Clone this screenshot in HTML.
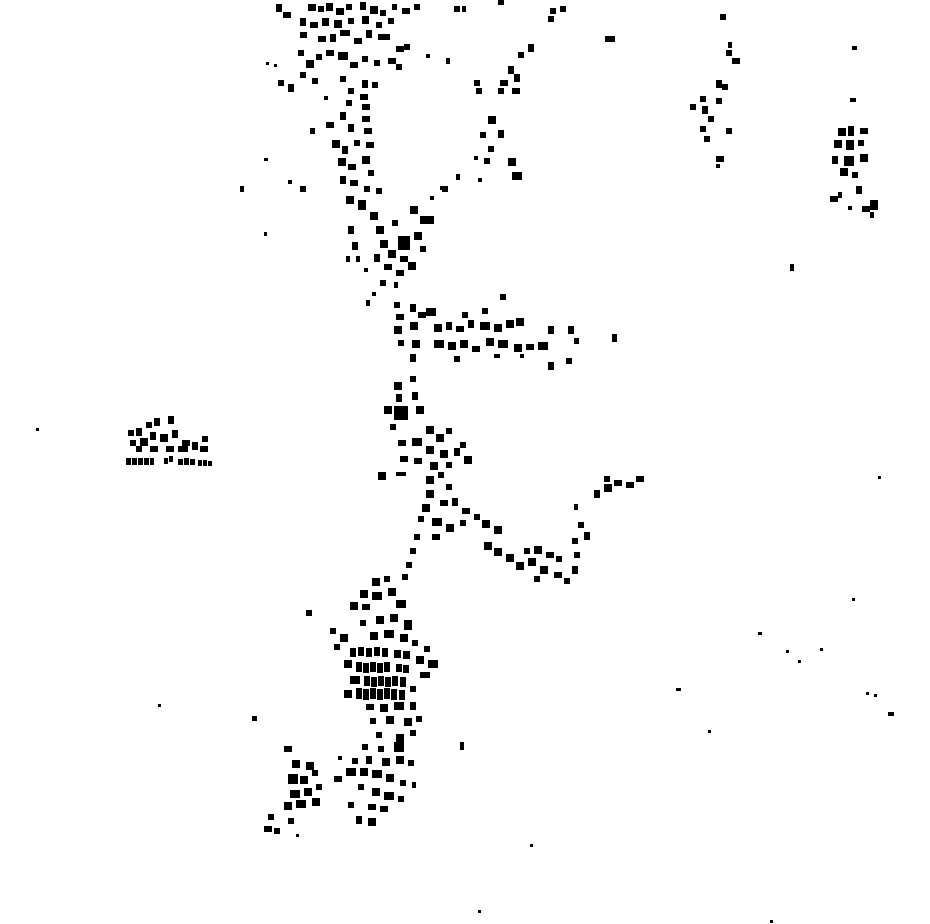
<!DOCTYPE html>
<html><head><meta charset="utf-8"><style>html,body{margin:0;padding:0;background:#fff}svg{display:block}</style></head>
<body>
<svg width="930" height="924" viewBox="0 0 930 924" xmlns="http://www.w3.org/2000/svg" fill="#000">
<g>
<rect x="276" y="4" width="6" height="8"/><rect x="283" y="12" width="8" height="6"/><rect x="308" y="4" width="8" height="7"/><rect x="318" y="6" width="6" height="6"/><rect x="326" y="3" width="7" height="8"/><rect x="336" y="8" width="8" height="7"/><rect x="346" y="4" width="6" height="6"/><rect x="360" y="2" width="6" height="8"/><rect x="370" y="6" width="8" height="8"/><rect x="380" y="10" width="6" height="6"/><rect x="392" y="4" width="5" height="6"/><rect x="402" y="8" width="8" height="6"/><rect x="414" y="4" width="6" height="6"/>
<rect x="300" y="18" width="6" height="8"/><rect x="310" y="22" width="8" height="6"/><rect x="322" y="18" width="7" height="8"/><rect x="334" y="20" width="8" height="8"/><rect x="348" y="18" width="6" height="6"/><rect x="362" y="16" width="7" height="8"/><rect x="376" y="22" width="6" height="6"/><rect x="388" y="18" width="6" height="6"/>
<rect x="300" y="32" width="7" height="6"/><rect x="318" y="36" width="8" height="6"/><rect x="330" y="34" width="6" height="8"/><rect x="340" y="30" width="10" height="6"/><rect x="354" y="38" width="8" height="6"/><rect x="366" y="30" width="6" height="8"/><rect x="378" y="34" width="12" height="6"/><rect x="396" y="46" width="8" height="6"/><rect x="404" y="44" width="6" height="6"/>
<rect x="298" y="50" width="6" height="6"/><rect x="306" y="60" width="8" height="8"/><rect x="316" y="54" width="6" height="6"/><rect x="326" y="50" width="8" height="6"/><rect x="338" y="52" width="10" height="8"/><rect x="350" y="62" width="8" height="6"/><rect x="362" y="56" width="6" height="6"/><rect x="374" y="60" width="6" height="6"/><rect x="388" y="58" width="8" height="6"/><rect x="396" y="64" width="6" height="6"/><rect x="426" y="54" width="4" height="4"/><rect x="446" y="58" width="4" height="6"/>
<rect x="278" y="80" width="6" height="6"/><rect x="288" y="84" width="6" height="8"/><rect x="300" y="72" width="6" height="6"/><rect x="312" y="78" width="6" height="6"/><rect x="324" y="96" width="4" height="4"/><rect x="340" y="76" width="6" height="6"/><rect x="348" y="88" width="6" height="6"/><rect x="362" y="80" width="6" height="8"/><rect x="372" y="82" width="6" height="6"/>
<rect x="454" y="6" width="6" height="6"/><rect x="462" y="6" width="4" height="6"/><rect x="498" y="0" width="6" height="5"/><rect x="550" y="8" width="6" height="6"/><rect x="560" y="6" width="6" height="6"/><rect x="548" y="16" width="6" height="6"/><rect x="605" y="36" width="10" height="6"/><rect x="266" y="62" width="3" height="3"/><rect x="274" y="64" width="3" height="3"/>
</g>
<g>
<rect x="360" y="94" width="8" height="6"/><rect x="362" y="104" width="8" height="6"/><rect x="362" y="116" width="8" height="6"/><rect x="346" y="100" width="6" height="6"/><rect x="340" y="112" width="6" height="8"/><rect x="326" y="122" width="8" height="6"/><rect x="310" y="128" width="5" height="6"/><rect x="348" y="124" width="6" height="8"/><rect x="364" y="128" width="8" height="6"/><rect x="332" y="140" width="8" height="8"/><rect x="342" y="146" width="6" height="8"/><rect x="354" y="140" width="6" height="6"/><rect x="366" y="142" width="8" height="6"/><rect x="338" y="158" width="8" height="8"/><rect x="348" y="164" width="8" height="6"/><rect x="362" y="156" width="8" height="8"/><rect x="368" y="170" width="6" height="6"/><rect x="340" y="176" width="6" height="8"/><rect x="350" y="180" width="8" height="6"/><rect x="364" y="186" width="6" height="6"/><rect x="376" y="188" width="6" height="6"/><rect x="300" y="186" width="6" height="6"/><rect x="288" y="180" width="4" height="4"/><rect x="240" y="186" width="4" height="6"/><rect x="264" y="158" width="4" height="3"/><rect x="264" y="232" width="3" height="4"/>
</g>
<g>
<rect x="528" y="44" width="6" height="8"/><rect x="518" y="52" width="6" height="6"/><rect x="508" y="66" width="6" height="8"/><rect x="500" y="80" width="8" height="6"/><rect x="514" y="74" width="6" height="8"/><rect x="512" y="88" width="8" height="6"/><rect x="498" y="88" width="6" height="6"/><rect x="474" y="80" width="6" height="6"/><rect x="476" y="88" width="6" height="6"/><rect x="488" y="116" width="8" height="8"/><rect x="498" y="130" width="6" height="8"/><rect x="480" y="132" width="6" height="6"/><rect x="488" y="146" width="6" height="6"/><rect x="484" y="158" width="6" height="6"/><rect x="474" y="156" width="4" height="4"/><rect x="508" y="158" width="8" height="8"/><rect x="512" y="172" width="10" height="8"/><rect x="456" y="174" width="4" height="6"/><rect x="478" y="178" width="4" height="4"/><rect x="440" y="186" width="4" height="4"/>
</g>
<g>
<rect x="346" y="196" width="8" height="8"/><rect x="358" y="200" width="8" height="10"/><rect x="370" y="212" width="8" height="8"/><rect x="376" y="226" width="8" height="8"/><rect x="380" y="240" width="8" height="8"/><rect x="398" y="236" width="12" height="14"/><rect x="414" y="232" width="8" height="8"/><rect x="420" y="216" width="14" height="8"/><rect x="410" y="206" width="8" height="8"/><rect x="392" y="220" width="6" height="6"/><rect x="388" y="250" width="8" height="8"/><rect x="400" y="256" width="8" height="6"/><rect x="374" y="254" width="6" height="8"/><rect x="384" y="264" width="8" height="6"/><rect x="396" y="270" width="8" height="6"/><rect x="408" y="262" width="8" height="8"/><rect x="420" y="246" width="6" height="6"/><rect x="348" y="226" width="6" height="8"/><rect x="352" y="242" width="6" height="8"/><rect x="346" y="256" width="4" height="6"/><rect x="356" y="256" width="4" height="6"/><rect x="364" y="268" width="4" height="4"/><rect x="380" y="280" width="6" height="6"/><rect x="394" y="282" width="4" height="6"/><rect x="372" y="292" width="4" height="4"/><rect x="366" y="300" width="4" height="6"/><rect x="430" y="196" width="4" height="4"/><rect x="442" y="186" width="6" height="6"/>
</g>
<g>
<rect x="394" y="302" width="6" height="6"/><rect x="396" y="314" width="8" height="6"/><rect x="394" y="326" width="8" height="8"/><rect x="410" y="304" width="6" height="8"/><rect x="418" y="312" width="8" height="6"/><rect x="426" y="308" width="10" height="8"/><rect x="410" y="322" width="8" height="8"/><rect x="398" y="340" width="6" height="6"/><rect x="412" y="340" width="8" height="8"/><rect x="410" y="354" width="6" height="8"/><rect x="434" y="324" width="8" height="8"/><rect x="446" y="322" width="6" height="8"/><rect x="456" y="326" width="8" height="6"/><rect x="468" y="320" width="6" height="8"/><rect x="480" y="322" width="10" height="8"/><rect x="494" y="324" width="8" height="8"/><rect x="506" y="320" width="8" height="8"/><rect x="516" y="318" width="8" height="8"/><rect x="500" y="294" width="6" height="6"/><rect x="482" y="308" width="6" height="6"/><rect x="462" y="312" width="6" height="6"/><rect x="434" y="340" width="10" height="8"/><rect x="448" y="342" width="8" height="8"/><rect x="460" y="340" width="8" height="8"/><rect x="472" y="346" width="8" height="6"/><rect x="486" y="338" width="8" height="8"/><rect x="498" y="340" width="10" height="8"/><rect x="514" y="344" width="8" height="8"/><rect x="526" y="344" width="8" height="6"/><rect x="538" y="342" width="10" height="8"/><rect x="548" y="326" width="6" height="8"/><rect x="568" y="326" width="6" height="8"/><rect x="574" y="338" width="5" height="6"/><rect x="548" y="362" width="6" height="8"/><rect x="566" y="358" width="6" height="6"/><rect x="612" y="334" width="5" height="8"/><rect x="454" y="356" width="6" height="6"/><rect x="494" y="354" width="6" height="4"/><rect x="520" y="354" width="4" height="4"/>
</g>
<g>
<rect x="410" y="376" width="6" height="6"/><rect x="394" y="382" width="8" height="8"/><rect x="396" y="394" width="6" height="8"/><rect x="384" y="406" width="8" height="8"/><rect x="394" y="406" width="14" height="14"/><rect x="412" y="392" width="6" height="8"/><rect x="416" y="406" width="8" height="8"/><rect x="390" y="424" width="6" height="6"/><rect x="426" y="426" width="8" height="8"/><rect x="436" y="434" width="8" height="8"/><rect x="446" y="428" width="6" height="6"/><rect x="398" y="440" width="8" height="6"/><rect x="412" y="438" width="10" height="8"/><rect x="426" y="446" width="8" height="8"/><rect x="440" y="450" width="8" height="8"/><rect x="454" y="448" width="6" height="8"/><rect x="464" y="456" width="8" height="8"/><rect x="460" y="442" width="6" height="6"/><rect x="400" y="456" width="8" height="6"/><rect x="414" y="458" width="8" height="6"/><rect x="430" y="462" width="8" height="8"/><rect x="446" y="462" width="6" height="6"/><rect x="378" y="472" width="8" height="8"/><rect x="396" y="472" width="10" height="4"/>
</g>
<g>
<rect x="128" y="430" width="6" height="6"/><rect x="136" y="428" width="6" height="8"/><rect x="146" y="422" width="6" height="6"/><rect x="154" y="418" width="6" height="8"/><rect x="168" y="416" width="6" height="8"/><rect x="130" y="440" width="6" height="6"/><rect x="140" y="438" width="8" height="8"/><rect x="150" y="432" width="6" height="8"/><rect x="160" y="434" width="8" height="8"/><rect x="172" y="430" width="6" height="8"/><rect x="182" y="440" width="8" height="6"/><rect x="192" y="442" width="6" height="8"/><rect x="202" y="436" width="6" height="6"/><rect x="136" y="446" width="6" height="6"/><rect x="150" y="446" width="8" height="6"/><rect x="166" y="446" width="8" height="6"/><rect x="178" y="446" width="10" height="6"/><rect x="200" y="446" width="8" height="6"/>
<rect x="126" y="458" width="5" height="7"/><rect x="132" y="458" width="5" height="7"/><rect x="138" y="458" width="5" height="7"/><rect x="144" y="458" width="5" height="7"/><rect x="150" y="458" width="4" height="7"/><rect x="164" y="458" width="4" height="6"/><rect x="169" y="456" width="4" height="6"/><rect x="178" y="459" width="5" height="6"/><rect x="184" y="458" width="5" height="7"/><rect x="190" y="459" width="5" height="6"/><rect x="198" y="460" width="4" height="6"/><rect x="203" y="460" width="4" height="6"/><rect x="208" y="461" width="4" height="5"/><rect x="36" y="428" width="3" height="3"/>
</g>
<g>
<rect x="426" y="476" width="8" height="8"/><rect x="438" y="472" width="6" height="6"/><rect x="426" y="490" width="8" height="8"/><rect x="446" y="484" width="6" height="6"/><rect x="422" y="504" width="8" height="8"/><rect x="440" y="500" width="8" height="6"/><rect x="452" y="498" width="6" height="8"/><rect x="462" y="508" width="8" height="6"/><rect x="418" y="516" width="6" height="6"/><rect x="432" y="518" width="10" height="8"/><rect x="446" y="524" width="8" height="8"/><rect x="460" y="520" width="6" height="6"/><rect x="482" y="520" width="8" height="8"/><rect x="494" y="526" width="8" height="8"/><rect x="474" y="514" width="6" height="6"/><rect x="432" y="534" width="8" height="6"/><rect x="414" y="534" width="6" height="6"/><rect x="484" y="542" width="8" height="8"/><rect x="494" y="548" width="8" height="8"/><rect x="506" y="554" width="8" height="8"/><rect x="516" y="562" width="8" height="8"/><rect x="528" y="558" width="8" height="8"/><rect x="540" y="566" width="8" height="8"/><rect x="554" y="572" width="8" height="6"/><rect x="564" y="578" width="6" height="6"/><rect x="534" y="576" width="6" height="6"/><rect x="524" y="548" width="6" height="6"/><rect x="534" y="546" width="8" height="8"/><rect x="546" y="552" width="8" height="6"/><rect x="556" y="556" width="6" height="6"/><rect x="572" y="566" width="6" height="8"/><rect x="574" y="552" width="6" height="6"/><rect x="572" y="538" width="6" height="6"/><rect x="584" y="532" width="6" height="8"/><rect x="578" y="522" width="6" height="6"/><rect x="574" y="504" width="4" height="6"/><rect x="594" y="490" width="6" height="8"/><rect x="604" y="484" width="8" height="8"/><rect x="614" y="480" width="8" height="6"/><rect x="626" y="482" width="8" height="6"/><rect x="636" y="476" width="8" height="6"/><rect x="604" y="476" width="6" height="6"/><rect x="410" y="548" width="6" height="6"/><rect x="406" y="562" width="6" height="6"/><rect x="402" y="574" width="6" height="6"/>
</g>
<g>
<rect x="372" y="578" width="8" height="8"/><rect x="384" y="576" width="6" height="6"/><rect x="360" y="590" width="8" height="8"/><rect x="372" y="592" width="10" height="8"/><rect x="388" y="588" width="8" height="8"/><rect x="350" y="602" width="8" height="8"/><rect x="362" y="604" width="8" height="6"/><rect x="396" y="600" width="10" height="8"/><rect x="390" y="614" width="8" height="8"/><rect x="376" y="616" width="8" height="8"/><rect x="360" y="620" width="6" height="6"/><rect x="404" y="620" width="8" height="10"/><rect x="330" y="628" width="6" height="6"/><rect x="340" y="634" width="8" height="8"/><rect x="370" y="632" width="8" height="8"/><rect x="384" y="630" width="10" height="8"/><rect x="400" y="634" width="8" height="8"/><rect x="412" y="640" width="6" height="6"/><rect x="424" y="646" width="6" height="6"/><rect x="334" y="644" width="6" height="6"/>
<rect x="350" y="648" width="6" height="9"/><rect x="358" y="647" width="6" height="9"/><rect x="366" y="648" width="6" height="9"/><rect x="374" y="647" width="6" height="9"/><rect x="382" y="648" width="6" height="9"/><rect x="394" y="650" width="7" height="8"/><rect x="403" y="651" width="7" height="8"/>
<rect x="416" y="656" width="8" height="8"/><rect x="428" y="660" width="10" height="8"/><rect x="344" y="660" width="8" height="8"/>
<rect x="356" y="662" width="6" height="10"/><rect x="363" y="663" width="6" height="10"/><rect x="370" y="662" width="6" height="10"/><rect x="377" y="663" width="6" height="10"/><rect x="384" y="662" width="6" height="10"/><rect x="396" y="664" width="6" height="8"/><rect x="403" y="665" width="6" height="8"/>
<rect x="420" y="672" width="10" height="6"/><rect x="350" y="676" width="10" height="8"/>
<rect x="364" y="676" width="6" height="10"/><rect x="371" y="677" width="6" height="10"/><rect x="378" y="676" width="6" height="10"/><rect x="385" y="677" width="6" height="10"/><rect x="392" y="676" width="6" height="10"/><rect x="400" y="677" width="6" height="10"/>
<rect x="344" y="690" width="8" height="8"/>
<rect x="356" y="688" width="6" height="11"/><rect x="363" y="689" width="6" height="11"/><rect x="370" y="688" width="6" height="11"/><rect x="377" y="689" width="6" height="11"/><rect x="384" y="688" width="6" height="11"/><rect x="391" y="689" width="6" height="11"/><rect x="399" y="690" width="6" height="10"/>
<rect x="410" y="686" width="6" height="6"/><rect x="366" y="704" width="8" height="6"/><rect x="380" y="704" width="8" height="8"/><rect x="394" y="702" width="10" height="8"/><rect x="410" y="702" width="6" height="8"/><rect x="306" y="610" width="6" height="6"/><rect x="252" y="716" width="5" height="5"/><rect x="158" y="704" width="3" height="3"/>
<rect x="370" y="718" width="6" height="6"/><rect x="386" y="716" width="8" height="8"/><rect x="404" y="718" width="8" height="8"/><rect x="416" y="716" width="6" height="6"/><rect x="376" y="732" width="6" height="6"/><rect x="396" y="734" width="8" height="8"/><rect x="410" y="730" width="6" height="6"/><rect x="362" y="744" width="6" height="6"/><rect x="378" y="746" width="6" height="6"/><rect x="394" y="742" width="10" height="10"/><rect x="460" y="742" width="4" height="8"/><rect x="338" y="756" width="4" height="4"/><rect x="352" y="758" width="6" height="6"/><rect x="366" y="756" width="6" height="8"/><rect x="382" y="758" width="8" height="8"/><rect x="396" y="756" width="8" height="8"/><rect x="408" y="760" width="6" height="6"/><rect x="334" y="776" width="8" height="6"/><rect x="346" y="768" width="10" height="8"/><rect x="360" y="768" width="8" height="8"/><rect x="372" y="770" width="10" height="8"/><rect x="386" y="774" width="8" height="8"/><rect x="400" y="780" width="6" height="6"/><rect x="412" y="782" width="4" height="6"/><rect x="358" y="784" width="6" height="6"/><rect x="372" y="788" width="8" height="8"/><rect x="384" y="792" width="10" height="8"/><rect x="398" y="796" width="6" height="6"/><rect x="368" y="804" width="8" height="6"/><rect x="348" y="802" width="6" height="6"/><rect x="380" y="806" width="8" height="6"/><rect x="356" y="816" width="6" height="8"/><rect x="368" y="818" width="8" height="8"/>
<rect x="284" y="746" width="8" height="6"/><rect x="292" y="760" width="8" height="8"/><rect x="306" y="762" width="8" height="8"/><rect x="288" y="774" width="10" height="10"/><rect x="300" y="776" width="8" height="8"/><rect x="312" y="770" width="6" height="6"/><rect x="290" y="790" width="10" height="8"/><rect x="304" y="788" width="8" height="8"/><rect x="316" y="784" width="6" height="6"/><rect x="284" y="802" width="8" height="8"/><rect x="296" y="800" width="10" height="8"/><rect x="312" y="798" width="8" height="8"/><rect x="268" y="814" width="6" height="6"/><rect x="288" y="818" width="6" height="6"/><rect x="264" y="826" width="8" height="6"/><rect x="274" y="828" width="6" height="6"/><rect x="296" y="834" width="3" height="3"/><rect x="530" y="844" width="3" height="3"/><rect x="478" y="910" width="3" height="3"/><rect x="770" y="920" width="3" height="3"/>
</g>
<g>
<rect x="720" y="14" width="6" height="6"/><rect x="728" y="42" width="4" height="6"/><rect x="726" y="50" width="6" height="6"/><rect x="732" y="58" width="8" height="6"/><rect x="716" y="80" width="6" height="8"/><rect x="722" y="84" width="6" height="6"/><rect x="700" y="96" width="6" height="6"/><rect x="690" y="104" width="6" height="6"/><rect x="702" y="106" width="6" height="8"/><rect x="716" y="98" width="6" height="6"/><rect x="708" y="116" width="6" height="6"/><rect x="700" y="126" width="6" height="6"/><rect x="726" y="128" width="6" height="6"/><rect x="704" y="136" width="6" height="6"/><rect x="716" y="156" width="8" height="6"/><rect x="716" y="164" width="4" height="4"/>
<rect x="852" y="46" width="5" height="4"/><rect x="850" y="98" width="6" height="4"/><rect x="838" y="128" width="8" height="8"/><rect x="848" y="126" width="6" height="10"/><rect x="860" y="128" width="8" height="6"/><rect x="834" y="140" width="8" height="8"/><rect x="846" y="140" width="8" height="10"/><rect x="858" y="140" width="6" height="6"/><rect x="832" y="156" width="6" height="8"/><rect x="844" y="156" width="10" height="10"/><rect x="860" y="154" width="8" height="8"/><rect x="840" y="168" width="8" height="8"/><rect x="852" y="172" width="6" height="6"/><rect x="856" y="186" width="6" height="8"/><rect x="830" y="196" width="8" height="6"/><rect x="838" y="192" width="4" height="6"/><rect x="862" y="206" width="8" height="6"/><rect x="870" y="200" width="8" height="10"/><rect x="870" y="212" width="4" height="6"/><rect x="848" y="206" width="4" height="4"/>
<rect x="790" y="264" width="4" height="7"/><rect x="878" y="476" width="3" height="3"/><rect x="852" y="598" width="3" height="3"/><rect x="758" y="632" width="4" height="3"/><rect x="786" y="650" width="3" height="3"/><rect x="798" y="660" width="3" height="3"/><rect x="820" y="648" width="3" height="3"/><rect x="676" y="688" width="5" height="3"/><rect x="866" y="692" width="3" height="3"/><rect x="874" y="694" width="3" height="3"/><rect x="888" y="712" width="6" height="4"/><rect x="708" y="730" width="3" height="3"/>
</g>
</svg>
</body></html>
